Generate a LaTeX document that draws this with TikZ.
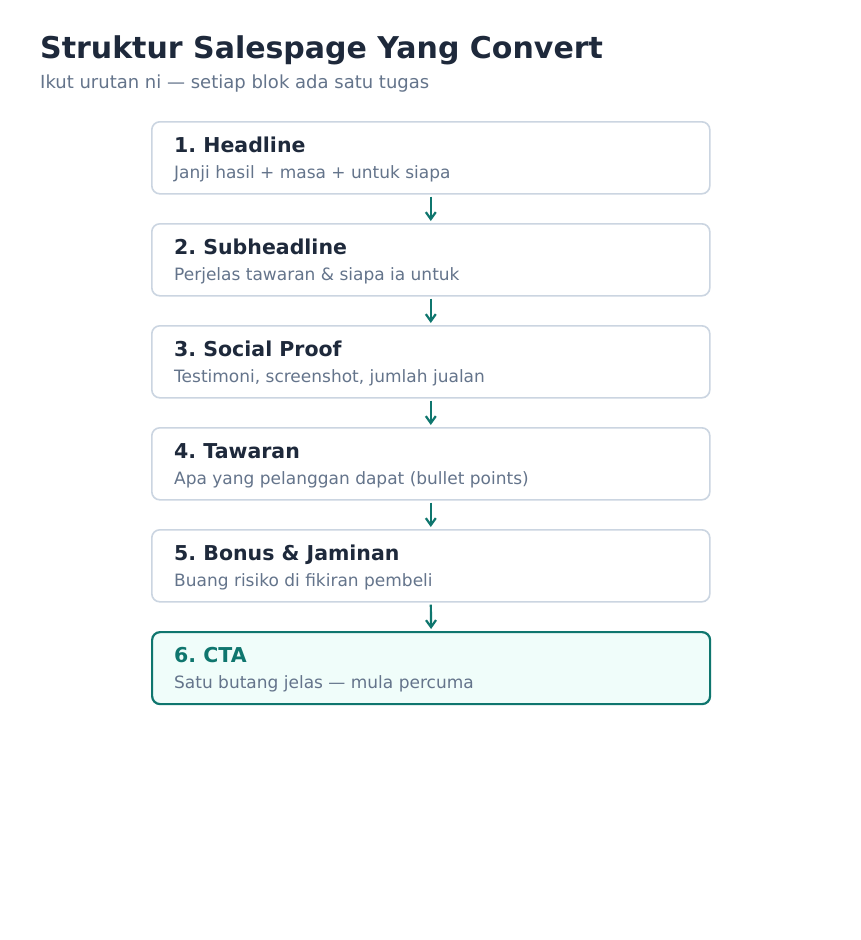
\documentclass[tikz,border=0pt]{standalone}
\usepackage{fontspec}
\setmainfont{DejaVu Sans}
\usetikzlibrary{arrows.meta}
\frenchspacing
\definecolor{ink}{HTML}{1E293B}
\definecolor{muted}{HTML}{64748B}
\definecolor{edge}{HTML}{CBD5E1}
\definecolor{teal}{HTML}{0F766E}
\definecolor{ctafill}{HTML}{F0FDFA}
\tikzset{
  card/.style={draw=edge, line width=1.6pt, rounded corners=8pt, fill=white, minimum width=558pt, minimum height=72pt, inner sep=0pt, anchor=north west},
  ctacard/.style={card, draw=teal, line width=2.2pt, fill=ctafill},
  cardtitle/.style={anchor=base west, inner sep=0pt, text=ink, font=\fontsize{20.5}{24}\selectfont\bfseries},
  ctatitle/.style={cardtitle, text=teal},
  cardsub/.style={anchor=base west, inner sep=0pt, text=muted, font=\fontsize{17}{20}\selectfont},
  flow/.style={draw=teal, line width=2.2pt, -{Straight Barb[length=7pt, width=10pt, line width=2.2pt]}, shorten <=2pt, shorten >=2pt}
}
\begin{document}
\begin{tikzpicture}[x=1pt, y=-1pt]
\useasboundingbox[fill=white] (0,0) rectangle (860,940);
\node[anchor=base west, inner sep=0pt, text=ink, font=\fontsize{30}{34}\selectfont\bfseries] (title) at (40,58) {Struktur Salespage Yang Convert};
\node[anchor=base west, inner sep=0pt, text=muted, font=\fontsize{18}{21}\selectfont] (subtitle) at (40,88.5) {Ikut urutan ni — setiap blok ada satu tugas};

\node[card] (b1) at (151,121) {};
\node[cardtitle] (t1) at (174,152.5) {1. Headline};
\node[cardsub] (s1) at (174,178) {Janji hasil + masa + untuk siapa};

\node[card] (b2) at (151,223) {};
\node[cardtitle] (t2) at (174,254.5) {2. Subheadline};
\node[cardsub] (s2) at (174,280) {Perjelas tawaran \& siapa ia untuk};

\node[card] (b3) at (151,325) {};
\node[cardtitle] (t3) at (174,356.5) {3. Social Proof};
\node[cardsub] (s3) at (174,382) {Testimoni, screenshot, jumlah jualan};

\node[card] (b4) at (151,427) {};
\node[cardtitle] (t4) at (174,458.5) {4. Tawaran};
\node[cardsub] (s4) at (174,484) {Apa yang pelanggan dapat (bullet points)};

\node[card] (b5) at (151,529) {};
\node[cardtitle] (t5) at (174,560.5) {5. Bonus \& Jaminan};
\node[cardsub] (s5) at (174,586) {Buang risiko di fikiran pembeli};

\node[ctacard] (b6) at (151,631) {};
\node[ctatitle] (t6) at (174,662.5) {6. CTA};
\node[cardsub] (s6) at (174,688) {Satu butang jelas — mula percuma};

\draw[flow] (b1.south) -- (b2.north);
\draw[flow] (b2.south) -- (b3.north);
\draw[flow] (b3.south) -- (b4.north);
\draw[flow] (b4.south) -- (b5.north);
\draw[flow] (b5.south) -- (b6.north);
\end{tikzpicture}
\end{document}
